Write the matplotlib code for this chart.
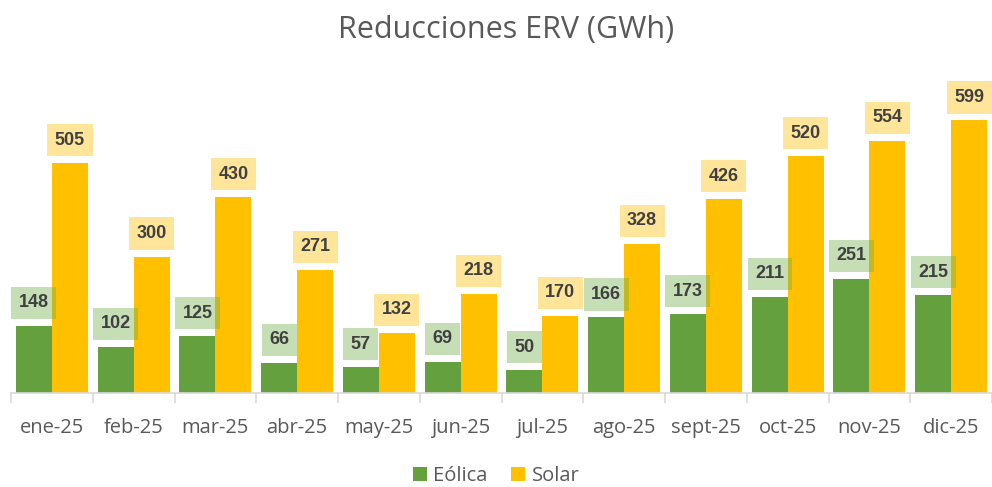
import numpy as np
import matplotlib
matplotlib.use('Agg')
import matplotlib.pyplot as plt

meses = ['ene-25', 'feb-25', 'mar-25', 'abr-25', 'may-25', 'jun-25',
         'jul-25', 'ago-25', 'sept-25', 'oct-25', 'nov-25', 'dic-25']
eolica = [148, 102, 125, 66, 57, 69, 50, 166, 173, 211, 251, 215]
solar = [505, 300, 430, 271, 132, 218, 170, 328, 426, 520, 554, 599]

verde = '#65A03F'
amarillo = '#FFC000'
txt = '#404040'

plt.rcParams['font.family'] = ['Open Sans', 'DejaVu Sans']

fig = plt.figure(figsize=(9.92, 4.87), dpi=100)
# axes placed in figure pixels: x 11..992, baseline at y=393
ax = fig.add_axes([11/992, (487-393)/487, 981/992, 0.62])
ymax = 0.62*487/0.455
ax.set_ylim(0, ymax)
ax.set_xlim(-0.5, len(meses)-0.5)

x = np.arange(len(meses))
w = 0.44
ax.bar(x - w/2, eolica, w, color=verde, label='Eólica', zorder=2)
ax.bar(x + w/2, solar, w, color=amarillo, label='Solar', zorder=2)

off = 23/0.455
for xi, v in zip(x, eolica):
    ax.text(xi - w/2, v + off, str(v), ha='center', va='center', fontsize=13,
            fontweight='bold', color=txt, family='Liberation Sans', zorder=4,
            bbox=dict(boxstyle='square,pad=0.42', fc='#70AD47', ec='none', alpha=0.4))
for xi, v in zip(x, solar):
    ax.text(xi + w/2, v + off, str(v), ha='center', va='center', fontsize=13,
            fontweight='bold', color=txt, family='Liberation Sans', zorder=4,
            bbox=dict(boxstyle='square,pad=0.42', fc='#FFC000', ec='none', alpha=0.4))

for s in ['top', 'right', 'left']:
    ax.spines[s].set_visible(False)
ax.spines['bottom'].set_color('#D9D9D9')
ax.spines['bottom'].set_linewidth(1.2)
ax.set_yticks([])
ax.set_xticks(x)
ax.set_xticklabels(meses, fontsize=14.5, color='#595959')
ax.tick_params(axis='x', which='major', length=0, pad=18)
ax.set_xticks(np.arange(len(meses)+1) - 0.5, minor=True)
ax.tick_params(axis='x', which='minor', length=7, color='#D9D9D9', width=1.2)

fig.text(0.51, 0.938, 'Reducciones ERV (GWh)', ha='center', va='center',
         fontsize=22, color='#595959')

fig.legend(loc='lower center', bbox_to_anchor=(0.5, -0.022), ncol=2, frameon=False,
           fontsize=14.5, handlelength=0.7, handleheight=0.7, handletextpad=0.3,
           columnspacing=1.2, labelcolor='#595959', borderpad=0.1)

fig.savefig('out.png', dpi=100)
